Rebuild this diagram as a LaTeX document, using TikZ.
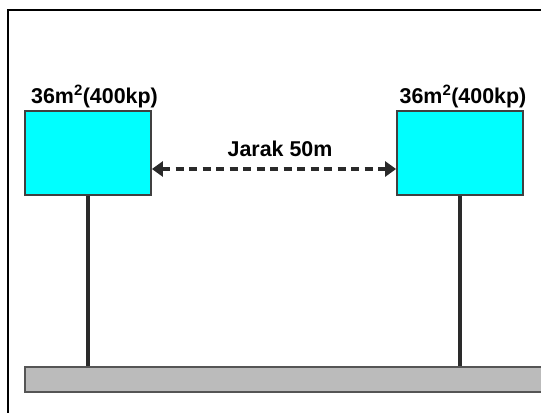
\documentclass[tikz,border=0pt]{standalone}
\usepackage{fontspec}
\setmainfont{Liberation Sans}
\usetikzlibrary{arrows.meta}
\definecolor{boxcyan}{HTML}{00FFFF}
\definecolor{edgegray}{HTML}{404040}
\definecolor{polegray}{HTML}{2A2A2A}
\definecolor{bargray}{HTML}{BBBBBB}
\definecolor{barline}{HTML}{555555}
\tikzset{
  tank/.style={draw=edgegray, line width=1.8bp, fill=boxcyan, minimum width=126bp, minimum height=84bp, inner sep=0pt},
  lbl/.style={font=\fontsize{21.5}{24}\selectfont\bfseries, inner sep=0pt, anchor=base},
  pole/.style={draw=polegray, line width=3.8bp},
  gap/.style={draw=polegray, line width=3.5bp, dash pattern=on 8bp off 5.5bp, {Triangle[length=11bp,width=15bp]}-{Triangle[length=11bp,width=15bp]}},
  ground/.style={draw=barline, line width=1.5bp, fill=bargray, minimum width=560bp, minimum height=25bp, inner sep=0pt},
  frame/.style={draw=black, line width=2bp}
}
\begin{document}
\begin{tikzpicture}[x=1bp,y=-1bp]
\useasboundingbox (0,0) rectangle (541,412);
\draw[frame] (7.5,420) -- (7.5,10) -- (550,10);
\node[ground] (bar) at (305,379.5) {};
\node[tank] (lbox) at (88,153) {};
\node[tank] (rbox) at (460,153) {};
\node[lbl] (llab) at (94.5,103) {36m\textsuperscript{2}(400kp)};
\node[lbl] (rlab) at (463,103) {36m\textsuperscript{2}(400kp)};
\node[lbl] (dist) at (280,156) {Jarak 50m};
\draw[pole] (lbox.south) -- (lbox.south |- bar.north);
\draw[pole] (rbox.south) -- (rbox.south |- bar.north);
\draw[gap] ([yshift=-16bp]lbox.east) -- ([yshift=-16bp]rbox.west);
\end{tikzpicture}
\end{document}
